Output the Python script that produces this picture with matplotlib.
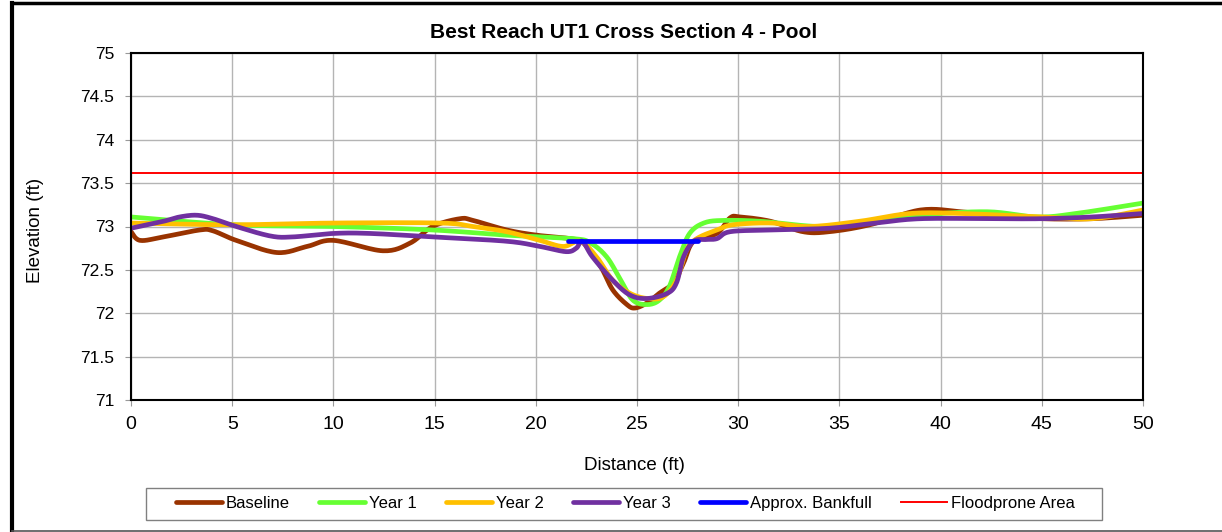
import numpy as np
import matplotlib
matplotlib.use("Agg")
import matplotlib.pyplot as plt
from matplotlib.lines import Line2D
from matplotlib.patches import Rectangle

plt.rcParams['font.family'] = ['Liberation Sans', 'DejaVu Sans']

title = "Best Reach UT1 Cross Section 4 - Pool"
xlabel = "Distance (ft)"
ylabel = "Elevation (ft)"

baseline_x = [0, 0.45, 1.6, 3.4, 4.05, 5.2, 7.2, 8.7, 10.0, 12.45, 13.8, 14.9, 16.25, 16.9, 18.56, 20.04,
              21.7, 22.35, 23.2, 23.8, 24.5, 24.9, 25.5, 26.1, 26.8, 27.3, 27.8, 28.95, 29.6, 30.1, 31.6,
              33.2, 34.5, 36.5, 39.0, 41.0, 42.6, 45.0, 47.5, 50]
baseline_y = [72.94, 72.84, 72.88, 72.96, 72.95, 72.84, 72.70, 72.77, 72.84, 72.72, 72.81, 73.0, 73.09, 73.07,
              72.96, 72.90, 72.86, 72.81, 72.54, 72.27, 72.10, 72.06, 72.12, 72.23, 72.35, 72.58, 72.83, 72.92,
              73.10, 73.11, 73.06, 72.94, 72.94, 73.02, 73.19, 73.17, 73.13, 73.09, 73.09, 73.13]

year1_x = [0, 5.05, 10, 14.9, 18.56, 21.85, 22.7, 23.5, 24.2, 24.8, 25.5, 26.1, 26.6, 27.1, 27.6, 28.3,
           29.25, 31.1, 34.0, 36.5, 39.0, 42.3, 44.75, 46.7, 50]
year1_y = [73.11, 73.02, 73.0, 72.96, 72.90, 72.86, 72.81, 72.65, 72.38, 72.15, 72.10, 72.15, 72.31, 72.65,
           72.92, 73.04, 73.07, 73.06, 73.0, 73.04, 73.13, 73.17, 73.11, 73.15, 73.27]

year2_x = [0, 5, 10, 15.27, 16.9, 18.56, 20.2, 21.35, 22.2, 23.0, 23.8, 24.65, 25.5, 26.3, 26.95, 27.45,
           27.95, 28.95, 29.75, 31.6, 33.5, 36.0, 38.5, 41.0, 45, 47.5, 50]
year2_y = [73.04, 73.02, 73.04, 73.04, 73.0, 72.94, 72.84, 72.77, 72.83, 72.65, 72.38, 72.23, 72.17, 72.19,
           72.38, 72.73, 72.86, 72.96, 73.02, 73.04, 73.0, 73.06, 73.15, 73.15, 73.11, 73.09, 73.19]

year3_x = [0, 1.6, 2.4, 3.25, 4.05, 5.2, 6.9, 8.0, 10, 11.8, 14.9, 18.56, 20.2, 21.5, 22.0, 22.3, 22.8, 23.8,
           24.65, 25.5, 26.5, 26.95, 27.3, 27.8, 28.4, 28.95, 29.6, 31.6, 34.5, 36.8, 39.0, 42.6, 45, 47.5, 50]
year3_y = [72.98, 73.06, 73.11, 73.13, 73.09, 73.0, 72.89, 72.88, 72.92, 72.92, 72.88, 72.83, 72.77, 72.71,
           72.75, 72.83, 72.65, 72.38, 72.21, 72.17, 72.23, 72.35, 72.65, 72.83, 72.85, 72.86, 72.94, 72.96,
           72.98, 73.04, 73.09, 73.09, 73.09, 73.11, 73.15]

bankfull_x = [21.6, 28.0]
bankfull_y = [72.83, 72.83]
flood_x = [0, 50]
flood_y = [73.62, 73.62]

x_ticks = [0, 5, 10, 15, 20, 25, 30, 35, 40, 45, 50]
y_ticks = [71, 71.5, 72, 72.5, 73, 73.5, 74, 74.5, 75]
y_ticklabels = ["71", "71.5", "72", "72.5", "73", "73.5", "74", "74.5", "75"]


def smooth(xs, ys, n=16):
    """Excel-style smoothed line (Bezier through the points)."""
    P = np.column_stack([xs, ys]).astype(float)
    out = [P[0]]
    t = np.linspace(0, 1, n + 1)[1:, None]
    for i in range(len(P) - 1):
        p0 = P[i - 1] if i > 0 else P[i]
        p1 = P[i]
        p2 = P[i + 1]
        p3 = P[i + 2] if i + 2 < len(P) else P[i + 1]
        b1 = p1 + (p2 - p0) / 6.0
        b2 = p2 - (p3 - p1) / 6.0
        seg = ((1 - t) ** 3) * p1 + 3 * ((1 - t) ** 2) * t * b1 + 3 * (1 - t) * t ** 2 * b2 + t ** 3 * p2
        out.extend(seg)
    out = np.array(out)
    return out[:, 0], out[:, 1]


W, H = 1222, 532
fig = plt.figure(figsize=(W / 100, H / 100), dpi=100)
ax = fig.add_axes([131 / W, 1 - 400 / H, (1143 - 131) / W, (400 - 53) / H])

series = [
    (baseline_x, baseline_y, "#993300", "Baseline"),
    (year1_x, year1_y, "#66FF33", "Year 1"),
    (year2_x, year2_y, "#FFC000", "Year 2"),
    (year3_x, year3_y, "#7030A0", "Year 3"),
]
for xs, ys, c, lab in series:
    sx, sy = smooth(xs, ys)
    ax.plot(sx, sy, color=c, lw=3.4, label=lab, solid_capstyle='round', solid_joinstyle='round')

ax.plot(bankfull_x, bankfull_y, color="#0000FF", lw=3.4, label="Approx. Bankfull", solid_capstyle='round')
ax.plot(flood_x, flood_y, color="#FF0000", lw=1.4, label="Floodprone Area")

ax.set_xlim(0, 50)
ax.set_ylim(71, 75)
ax.set_xticks(x_ticks)
ax.set_yticks(y_ticks)
ax.set_yticklabels(y_ticklabels)
ax.grid(True, color="#b4b4b4", lw=1.0)
ax.set_axisbelow(True)
for s in ax.spines.values():
    s.set_color("black")
    s.set_linewidth(1.5)
ax.tick_params(axis='y', length=4, color="#999999", labelsize=12.5, pad=8)
ax.tick_params(axis='x', length=4.5, color="#999999", labelsize=14, pad=7)

fig.text(624 / W, 1 - 33 / H, title, ha='center', va='center', fontsize=15, fontweight='bold')
fig.text(634 / W, 1 - 465 / H, xlabel, ha='center', va='center', fontsize=13.5)
fig.text(36 / W, 1 - 230 / H, ylabel, ha='center', va='center', fontsize=13.5, rotation=90)

# legend frame
fig.add_artist(Rectangle((146 / W, 1 - 520 / H), (1102 - 146) / W, (520 - 487.5) / H,
                         transform=fig.transFigure, facecolor='white', edgecolor='#808080', lw=1.0))
leg = fig.legend(loc='center', bbox_to_anchor=(625 / W, 1 - 503.5 / H), ncol=6, fontsize=12,
                 frameon=False, handlelength=2.8, handletextpad=0.2, columnspacing=1.75,
                 borderpad=0.2)

# outer chart border
fig.add_artist(Line2D([11.5 / W, 11.5 / W], [1 - 3 / H, 1 - 531 / H], transform=fig.transFigure,
                      color='black', lw=3))
fig.add_artist(Line2D([11.5 / W, 1.0], [1 - 3.3 / H, 1 - 3.3 / H], transform=fig.transFigure,
                      color='black', lw=2.5))
fig.add_artist(Line2D([11.5 / W, 1.0], [1 - 531 / H, 1 - 531 / H], transform=fig.transFigure,
                      color='#555555', lw=1.2))

fig.savefig("out.png", dpi=100)
